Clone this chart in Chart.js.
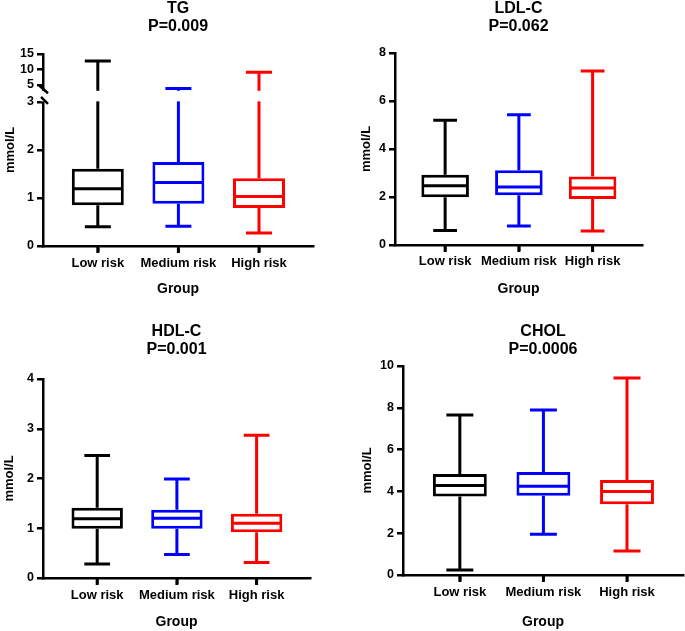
<!DOCTYPE html>
<html><head><meta charset="utf-8">
<script src="https://cdn.jsdelivr.net/npm/chart.js@4.4.1/dist/chart.umd.min.js"></script>
<style>
html,body{margin:0;padding:0;background:#fff;}
#wrap{position:relative;width:685px;height:631px;overflow:hidden;}
canvas{position:absolute;}
</style></head><body>
<div id="wrap">
<canvas id="c1" width="340" height="310" style="left:0;top:0"></canvas>
<canvas id="c2" width="345" height="310" style="left:340px;top:0"></canvas>
<canvas id="c3" width="340" height="321" style="left:0;top:310px"></canvas>
<canvas id="c4" width="345" height="321" style="left:340px;top:310px"></canvas>
</div>
<script>
// ---------- data ----------
const categories = ['Low risk', 'Medium risk', 'High risk'];
const groupColors = ['#000000', '#0000ff', '#ff0000'];

const tgTitle = ['TG', 'P=0.009'];
const tgMin = [0.40, 0.41, 0.27];
const tgQ1 = [0.85, 0.88, 0.79];
const tgMed = [1.19, 1.32, 1.03];
const tgQ3 = [1.61, 1.75, 1.41];
const tgMax = [12.7, 3.8, 9.1];
const tgTicks = [0, 1, 2, 3, 5, 10, 15];

const ldlTitle = ['LDL-C', 'P=0.062'];
const ldlMin = [0.60, 0.79, 0.58];
const ldlQ1 = [1.99, 2.07, 1.92];
const ldlMed = [2.47, 2.42, 2.38];
const ldlQ3 = [2.93, 3.11, 2.85];
const ldlMax = [5.20, 5.43, 7.25];
const ldlTicks = [0, 2, 4, 6, 8];

const hdlTitle = ['HDL-C', 'P=0.001'];
const hdlMin = [0.28, 0.47, 0.31];
const hdlQ1 = [0.99, 0.99, 0.92];
const hdlMed = [1.19, 1.20, 1.10];
const hdlQ3 = [1.41, 1.37, 1.29];
const hdlMax = [2.46, 1.99, 2.87];
const hdlTicks = [0, 1, 2, 3, 4];

const cholTitle = ['CHOL', 'P=0.0006'];
const cholMin = [0.24, 1.95, 1.15];
const cholQ1 = [3.76, 3.79, 3.39];
const cholMed = [4.28, 4.25, 4.00];
const cholQ3 = [4.83, 4.93, 4.54];
const cholMax = [7.66, 7.90, 9.42];
const cholTicks = [0, 2, 4, 6, 8, 10];

const yTitle = 'mmol/L';
const xTitle = 'Group';

// broken TG axis: 0-3 linear, then compressed upper segment
const tgBreakLow = 3;
const tgBreakHigh = 3.4;
function tgTransform(v) { return v <= tgBreakLow ? v : 3.354 + (v - 5) * 0.0642; }
const identity = v => v;

Chart.defaults.font.family = "'Liberation Sans', Arial, Helvetica, sans-serif";
Chart.defaults.color = '#000';

const boxPlugin = {
  id: 'boxWhisker',
  afterDatasetsDraw(chart, args, o) {
    const {ctx, scales: {x, y}} = chart;
    const t = o.transform;
    ctx.save();
    ctx.lineWidth = 3;
    ctx.lineCap = 'butt';
    for (let i = 0; i < categories.length; i++) {
      const cx = x.getPixelForValue(i);
      const half = x.getPixelForValue(i + o.boxWidth / 2) - cx;
      const cap = half / 2;
      const yMin = y.getPixelForValue(t(o.min[i]));
      const yQ1 = y.getPixelForValue(t(o.q1[i]));
      const yMed = y.getPixelForValue(t(o.med[i]));
      const yQ3 = y.getPixelForValue(t(o.q3[i]));
      const yMax = y.getPixelForValue(t(o.max[i]));
      ctx.strokeStyle = groupColors[i];
      ctx.beginPath();
      ctx.moveTo(cx, yQ3); ctx.lineTo(cx, yMax);
      ctx.moveTo(cx, yQ1); ctx.lineTo(cx, yMin);
      ctx.moveTo(cx - cap, yMax); ctx.lineTo(cx + cap, yMax);
      ctx.moveTo(cx - cap, yMin); ctx.lineTo(cx + cap, yMin);
      ctx.moveTo(cx - half + 1, yMed); ctx.lineTo(cx + half - 1, yMed);
      ctx.stroke();
    }
    ctx.restore();
  },
  afterDraw(chart, args, o) {
    const {ctx, chartArea, scales: {x, y}} = chart;
    // category tick marks below the x axis
    ctx.save();
    ctx.strokeStyle = '#000';
    ctx.lineWidth = 3;
    ctx.beginPath();
    for (let i = 0; i < x.ticks.length; i++) {
      const px = x.getPixelForTick(i);
      ctx.moveTo(px, chartArea.bottom);
      ctx.lineTo(px, chartArea.bottom + 7);
    }
    ctx.stroke();
    ctx.restore();
    if (!o.breakAxis) return;
    const yTop = y.getPixelForValue(o.transform(tgBreakHigh));
    const yBot = y.getPixelForValue(tgBreakLow);
    const l = chartArea.left;
    ctx.save();
    ctx.fillStyle = '#fff';
    ctx.fillRect(l - 2.5, yTop + 1, chartArea.right - l + 2.5, yBot - yTop - 1.5);
    ctx.strokeStyle = '#000';
    ctx.lineWidth = 2.5;
    ctx.beginPath();
    ctx.moveTo(l - 3.5, yTop - 4); ctx.lineTo(l + 5, yTop + 3.5);
    ctx.moveTo(l - 2, yBot - 5); ctx.lineTo(l + 5, yBot + 2);
    ctx.stroke();
    ctx.restore();
  }
};

function makeChart(id, p) {
  const data = categories.map((c, i) => ({x: i, y: [p.q1[i], p.q3[i]]}));
  const tickVals = p.ticks.map(p.transform);
  return new Chart(document.getElementById(id), {
    type: 'bar',
    data: {
      datasets: [{
        data: data,
        backgroundColor: '#ffffff',
        borderColor: groupColors,
        borderWidth: 3,
        borderSkipped: false,
        categoryPercentage: 1,
        barPercentage: 0.645
      }]
    },
    plugins: [boxPlugin],
    options: {
      responsive: false,
      animation: false,
      devicePixelRatio: 1,
      layout: {padding: {left: 0, right: p.padRight, top: 0, bottom: 0}},
      plugins: {
        legend: {display: false},
        tooltip: {enabled: false},
        title: {
          display: true,
          text: p.title,
          fullSize: false,
          color: '#000',
          font: {size: 16, weight: 'bold', lineHeight: 1.125},
          padding: {top: p.titleTop, bottom: p.titleBottom}
        },
        boxWhisker: {
          min: p.min, q1: p.q1, med: p.med, q3: p.q3, max: p.max,
          transform: p.transform, boxWidth: 0.645, breakAxis: !!p.breakAxis
        }
      },
      scales: {
        x: {
          type: 'linear',
          min: -0.68,
          max: 2.67,
          offset: false,
          afterBuildTicks: s => { s.ticks = categories.map((c, i) => ({value: i})); },
          afterFit: s => { s.height = p.xHeight; },
          grid: {offset: false, drawOnChartArea: false, drawTicks: true, tickLength: 6, color: '#000', lineWidth: 2.5},
          border: {display: true, color: '#000', width: 2.5},
          ticks: {
            autoSkip: false, maxRotation: 0, padding: p.xTickPad, color: '#000',
            font: {size: 13, weight: 'bold'},
            callback: (v) => categories[v]
          },
          title: {display: true, text: xTitle, color: '#000',
            font: {size: 14, weight: 'bold'}, padding: {top: 0, bottom: p.xTitleBottom}}
        },
        y: {
          type: 'linear',
          min: 0,
          max: tickVals[tickVals.length - 1],
          afterBuildTicks: s => { s.ticks = tickVals.map(v => ({value: v})); },
          afterFit: s => { s.width = p.yWidth; },
          grid: {offset: false, drawOnChartArea: false, drawTicks: true, tickLength: 6, color: '#000', lineWidth: 2.5},
          border: {display: true, color: '#000', width: 2.5},
          ticks: {
            autoSkip: false, padding: 3, color: '#000',
            font: {size: 12.5, weight: 'bold'},
            callback: (v, idx) => String(p.ticks[idx])
          },
          title: {display: true, text: yTitle, color: '#000',
            font: {size: 13, weight: 'bold'}, padding: {top: p.yTitleTop, bottom: 0}}
        }
      }
    }
  });
}

makeChart('c1', {title: tgTitle, min: tgMin, q1: tgQ1, med: tgMed, q3: tgQ3, max: tgMax,
  ticks: tgTicks, transform: tgTransform, breakAxis: true,
  padRight: 27, yWidth: 43, xHeight: 64, titleTop: 0, titleBottom: 18,
  xTickPad: 3.2, xTitleBottom: 12.6, yTitleTop: 2.5});
makeChart('c2', {title: ldlTitle, min: ldlMin, q1: ldlQ1, med: ldlMed, q3: ldlQ3, max: ldlMax,
  ticks: ldlTicks, transform: identity,
  padRight: 43, yWidth: 55, xHeight: 65, titleTop: 0, titleBottom: 17,
  xTickPad: 2.9, xTitleBottom: 12.6, yTitleTop: 19});
makeChart('c3', {title: hdlTitle, min: hdlMin, q1: hdlQ1, med: hdlMed, q3: hdlQ3, max: hdlMax,
  ticks: hdlTicks, transform: identity,
  padRight: 30, yWidth: 43, xHeight: 53, titleTop: 12.7, titleBottom: 20.3,
  xTickPad: 3.9, xTitleBottom: 0.9, yTitleTop: 1.5});
makeChart('c4', {title: cholTitle, min: cholMin, q1: cholQ1, med: cholMed, q3: cholQ3, max: cholMax,
  ticks: cholTicks, transform: identity,
  padRight: 2, yWidth: 63, xHeight: 56, titleTop: 12.7, titleBottom: 7.3,
  xTickPad: 3.5, xTitleBottom: 0.9, yTitleTop: 20});
</script>
</body></html>
